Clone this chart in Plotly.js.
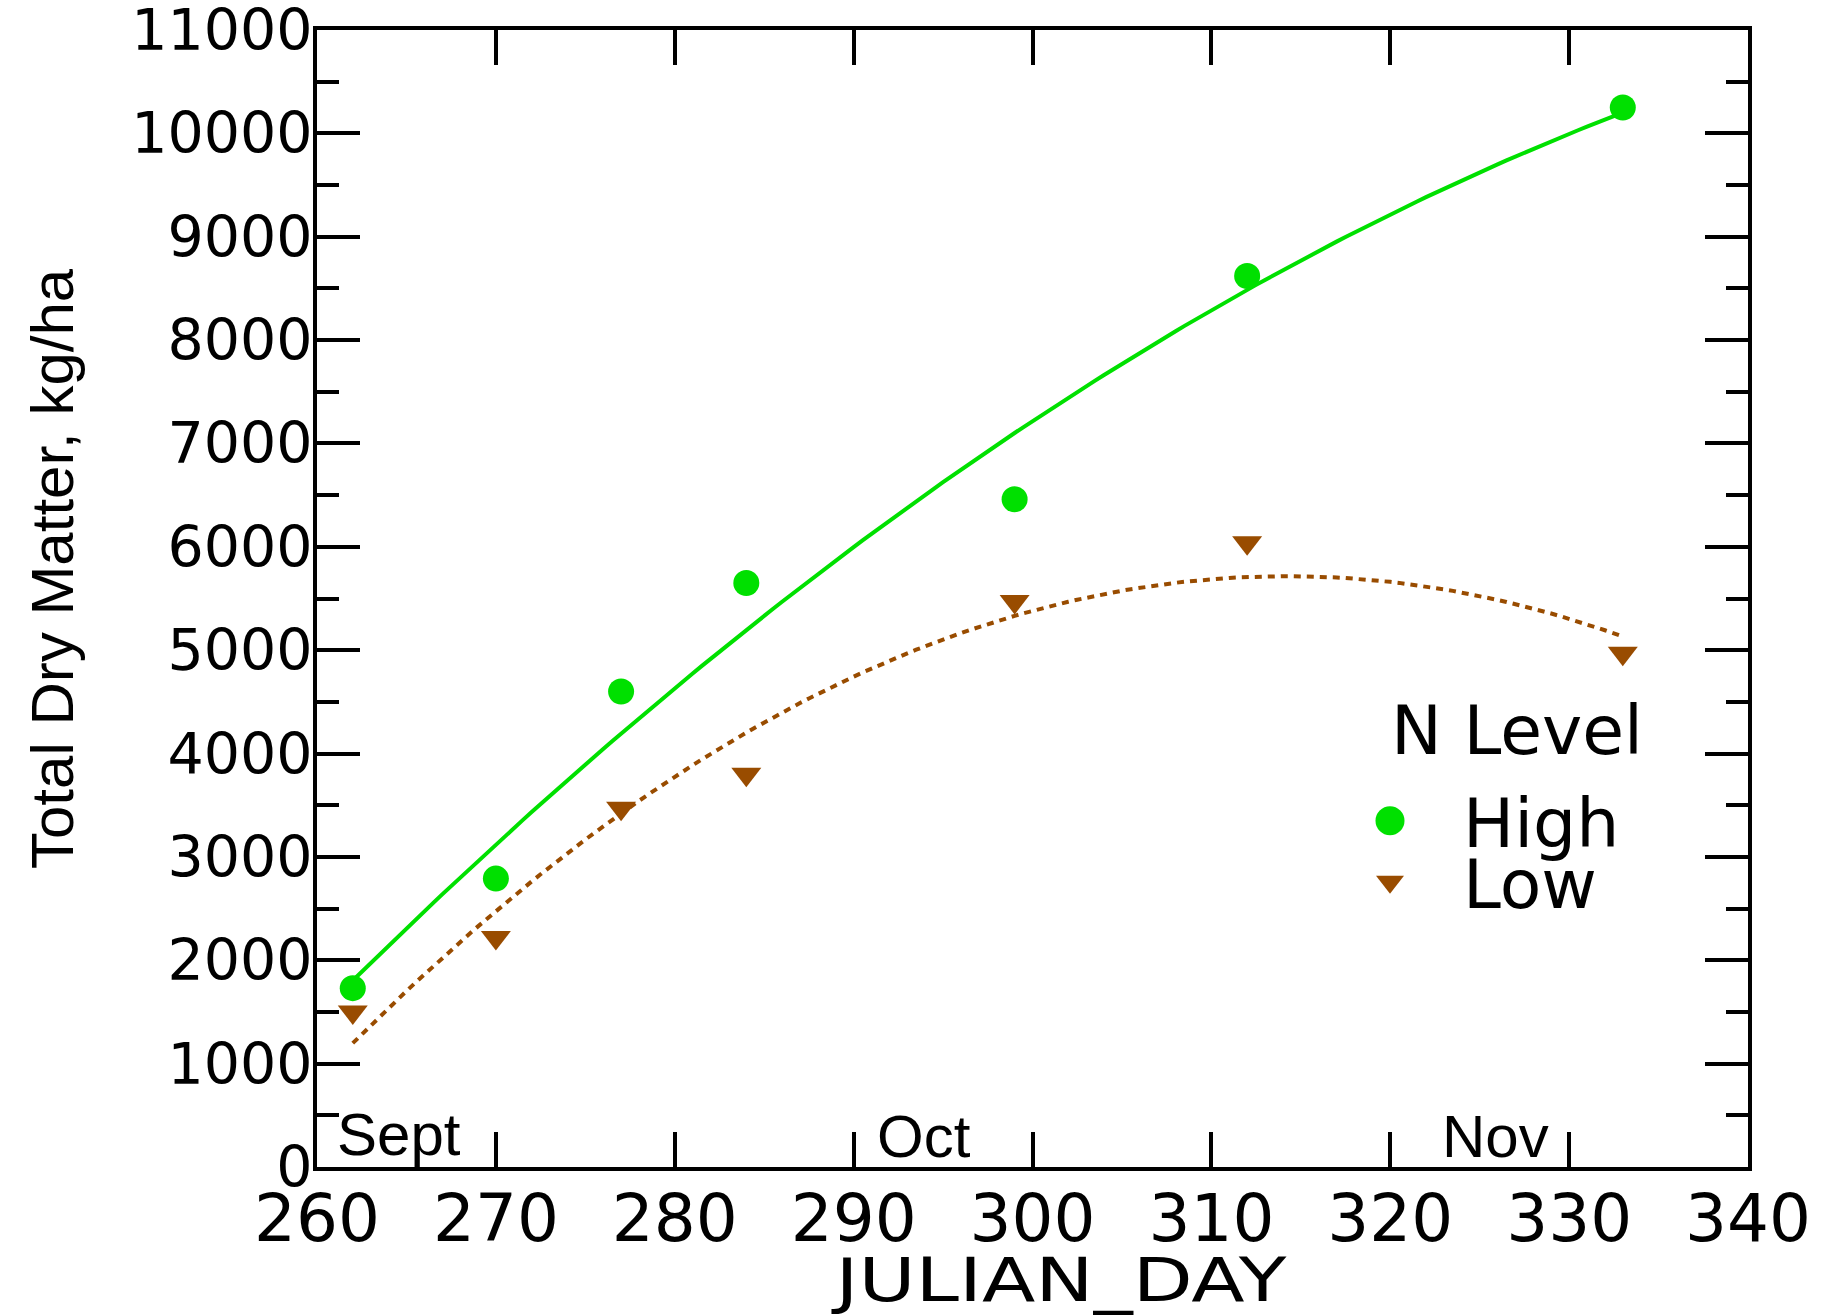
<!DOCTYPE html>
<html>
<head>
<meta charset="utf-8">
<script src="https://cdn.plot.ly/plotly-3.0.1.min.js"></script>
<style>
  html, body { margin: 0; padding: 0; background: #ffffff; }
  #chart { width: 1824px; height: 1315px; }
  g.annotation[data-index="1"] text {
    transform-box: fill-box; transform-origin: center; transform: scaleX(1.3);
  }
</style>
</head>
<body>
<div id="chart"></div>
<script>
// ---- data ----
const julianDay = [262, 270, 277, 284, 299, 312, 333];
const highN = [1730, 2790, 4600, 5650, 6460, 8620, 10250];
const lowN  = [1500, 2220, 3470, 3800, 5470, 6040, 4970];
const seriesNames = ['High', 'Low'];
const legendTitle = 'N Level';
const monthLabels = ['Sept', 'Oct', 'Nov'];
const xTickVals = [260, 270, 280, 290, 300, 310, 320, 330, 340];
const yTickVals = [0, 1000, 2000, 3000, 4000, 5000, 6000, 7000, 8000, 9000, 10000, 11000];
const xTitle = 'JULIAN_DAY';
const yTitle = 'Total Dry Matter, kg/ha';

// ---- quadratic least-squares trend, derived from the data arrays ----
function quadFit(xs, ys) {
  const n = xs.length;
  const m = xs.reduce((a, b) => a + b, 0) / n;
  let s1 = 0, s2 = 0, s3 = 0, s4 = 0, t0 = 0, t1 = 0, t2 = 0;
  for (let i = 0; i < n; i++) {
    const u = xs[i] - m, y = ys[i];
    s1 += u; s2 += u * u; s3 += u * u * u; s4 += u * u * u * u;
    t0 += y; t1 += u * y; t2 += u * u * y;
  }
  const A = [[n, s1, s2, t0], [s1, s2, s3, t1], [s2, s3, s4, t2]];
  for (let c = 0; c < 3; c++) {
    for (let r = c + 1; r < 3; r++) {
      const f = A[r][c] / A[c][c];
      for (let k = c; k < 4; k++) A[r][k] -= f * A[c][k];
    }
  }
  const coef = [0, 0, 0];
  for (let r = 2; r >= 0; r--) {
    let s = A[r][3];
    for (let k = r + 1; k < 3; k++) s -= A[r][k] * coef[k];
    coef[r] = s / A[r][r];
  }
  const lo = Math.min(...xs), hi = Math.max(...xs);
  const fx = [], fy = [];
  for (let x = lo; x <= hi + 1e-9; x += 0.5) {
    const u = x - m;
    fx.push(x); fy.push(coef[0] + coef[1] * u + coef[2] * u * u);
  }
  return { x: fx, y: fy };
}

const green = '#00e000';
const brown = '#994c00';
const highFit = quadFit(julianDay, highN);
const lowFit = quadFit(julianDay, lowN);

const traces = [
  { x: highFit.x, y: highFit.y, type: 'scatter', mode: 'lines',
    line: { color: green, width: 4 }, showlegend: false, hoverinfo: 'skip' },
  { x: lowFit.x, y: lowFit.y, type: 'scatter', mode: 'lines',
    line: { color: brown, width: 4, dash: '7px,6px' }, showlegend: false, hoverinfo: 'skip' },
  { x: julianDay, y: highN, type: 'scatter', mode: 'markers', name: seriesNames[0],
    marker: { symbol: 'circle', size: 26, color: green }, legend: 'legend' },
  { x: julianDay, y: lowN, type: 'scatter', mode: 'markers', name: seriesNames[1],
    marker: { symbol: 'triangle-down', size: 26, color: brown }, legend: 'legend2' }
];

const W = 1824, H = 1315;
const mL = 317, mR = 76, mT = 30, mB = 148;
const pw = W - mL - mR, ph = H - mT - mB;
const px = v => (v - mL) / pw;          // page x -> paper
const py = v => (mT + ph - v) / ph;     // page y -> paper

const tickFont = 'DejaVu Sans, sans-serif';
const textFont = 'Liberation Sans, Arial, sans-serif';

const legendCommon = {
  xanchor: 'left', yanchor: 'middle', bgcolor: 'rgba(0,0,0,0)', borderwidth: 0,
  font: { family: tickFont, size: 68, color: '#000' }, itemwidth: 136, tracegroupgap: 0
};

const layout = {
  width: W, height: H,
  margin: { l: mL, r: mR, t: mT, b: mB, pad: 0 },
  paper_bgcolor: '#ffffff', plot_bgcolor: '#ffffff',
  showlegend: true,
  xaxis: {
    range: [260, 340], tickvals: xTickVals, ticktext: xTickVals.map(String),
    ticks: 'inside', ticklen: 35, tickwidth: 4, tickcolor: '#000',
    showline: true, linewidth: 4, linecolor: '#000', mirror: 'ticks',
    showgrid: false, zeroline: false, ticklabeloverflow: 'allow', ticklabelstandoff: -9,
    tickfont: { family: tickFont, size: 66, color: '#000' }
  },
  yaxis: {
    range: [0, 11000], tickvals: yTickVals, ticktext: yTickVals.map(String),
    ticks: 'inside', ticklen: 43, tickwidth: 4, tickcolor: '#000',
    minor: { dtick: 500, ticks: 'inside', ticklen: 22, tickwidth: 4, tickcolor: '#000', showgrid: false },
    showline: true, linewidth: 4, linecolor: '#000', mirror: 'ticks',
    showgrid: false, zeroline: false, ticklabeloverflow: 'allow', ticklabelstandoff: -11,
    tickfont: { family: tickFont, size: 57, color: '#000' }
  },
  legend: Object.assign({}, legendCommon, { x: px(1317), y: py(821) }),
  legend2: Object.assign({}, legendCommon, { x: px(1317), y: py(882) }),
  annotations: [
    { text: legendTitle, xref: 'paper', yref: 'paper', x: px(1389), y: py(730),
      xanchor: 'left', yanchor: 'middle', showarrow: false,
      font: { family: tickFont, size: 68, color: '#000' } },
    { text: xTitle, xref: 'paper', yref: 'paper', x: px(1058), y: py(1280),
      xanchor: 'center', yanchor: 'middle', showarrow: false,
      font: { family: tickFont, size: 60, color: '#000' } },
    { text: yTitle, xref: 'paper', yref: 'paper', x: px(52), y: py(569),
      xanchor: 'center', yanchor: 'middle', textangle: -90, showarrow: false,
      font: { family: textFont, size: 60, color: '#000' } },
    { text: monthLabels[0], xref: 'x', yref: 'paper', x: 261.0, y: py(1134),
      xanchor: 'left', yanchor: 'middle', showarrow: false,
      font: { family: textFont, size: 60, color: '#000' } },
    { text: monthLabels[1], xref: 'x', yref: 'paper', x: 291.2, y: py(1136),
      xanchor: 'left', yanchor: 'middle', showarrow: false,
      font: { family: textFont, size: 60, color: '#000' } },
    { text: monthLabels[2], xref: 'x', yref: 'paper', x: 322.8, y: py(1136),
      xanchor: 'left', yanchor: 'middle', showarrow: false,
      font: { family: textFont, size: 60, color: '#000' } }
  ]
};

Plotly.newPlot('chart', traces, layout, { displayModeBar: false, staticPlot: true }).then(gd => {
  // enlarge legend symbols to the size used in the reference's key
  const targetWidth = { legend: 29, legend2: 28 };
  Object.keys(targetWidth).forEach(cls => {
    gd.querySelectorAll('g.' + cls + ' path.scatterpts').forEach(p => {
      const bb = p.getBBox();
      if (!bb.width) return;
      const s = targetWidth[cls] / bb.width;
      const t = p.getAttribute('transform') || '';
      p.setAttribute('transform', t + ' scale(' + s.toFixed(3) + ')');
    });
  });
});
</script>
</body>
</html>
